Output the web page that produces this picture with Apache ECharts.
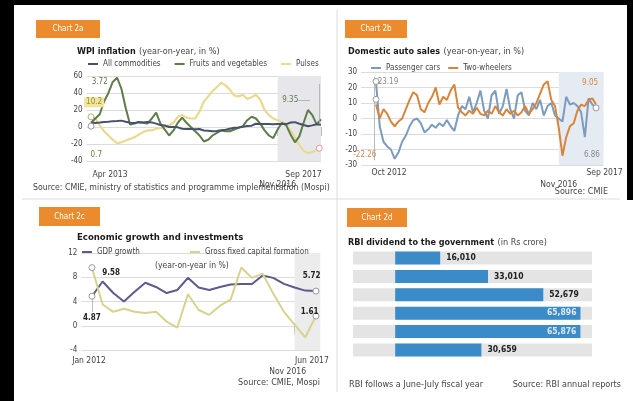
<!DOCTYPE html>
<html><head><meta charset="utf-8">
<script src="https://cdn.jsdelivr.net/npm/echarts@6/dist/echarts.min.js"></script>
<style>html,body{margin:0;padding:0;background:#fff}#c{width:633px;height:401px}</style>
</head><body><div id="c"></div>
<script>
const FONT = "'Liberation Sans Narrow','DejaVu Sans Condensed',sans-serif";

// ---------- Chart 2a: WPI inflation (monthly, Apr 2013 - Sep 2017) ----------
const MON = ['Jan','Feb','Mar','Apr','May','Jun','Jul','Aug','Sep','Oct','Nov','Dec'];
function monthRange(y0, m0, n){ const out=[]; for(let k=0;k<n;k++){ const m=(m0+k)%12, y=y0+Math.floor((m0+k)/12); out.push(MON[m]+' '+y);} return out; }
const wpiMonths = monthRange(2013, 3, 54);
const wpiAll = [5.2,4.6,5.2,5.9,6.1,6.9,7.0,7.5,6.2,5.0,4.7,5.7, 5.2,6.0,5.4,4.0,2.4,1.8,0.0,0.1,-0.4,-2.1,-2.4,-2.3, -2.7,-2.4,-4.1,-4.5,-5.0,-4.6,-3.8,-3.3,-2.0,-0.9,-0.7,0.3, 1.2,1.6,3.8,3.6,3.4,3.4,3.2,3.4,3.4,3.4,5.3,5.7, 3.9,2.3,0.9,1.9,3.2,2.6];
const wpiFruits = [5,10,15,30,40,53,58,45,22,3,4,6, 5,4,10,17,4,-3,-10,-4,5,11,5,0, -5,-10,-17,-15,-10,-7,-4,-5,-5,-3,-1,1, 8,12,10,4,-4,-10,-13,-3,5,2,-9,-18, -11,5,20,14,3,9];
const wpiPulses = [12,10,2,-5,-10,-15,-19,-18,-16,-14,-12,-9, -6,-4,-4,-2,-1,0,2,5,12,14,11,10, 10,18,30,36,42,47,52,49,44,37,36,38, 33,35,38,32,20,14,10,8,6,3,-4,-13, -21,-28,-31,-29,-27,-24];
const wpiTicks = [['Apr 2013','Apr 2013'],['Nov 2016','Nov 2016'],['Sep 2017','Sep 2017']];

// ---------- Chart 2b: Domestic auto sales (monthly, Oct 2012 - Sep 2017) ----------
const autoMonths = monthRange(2012, 9, 60);
const autoCars = [23.19,-5,-15,-18,-20,-26,-22,-15,-11,-5,-1,0, -3,-9,-7,-4,-6,-3,-5,-1,-5,-8,2,8, 6,14,4,10,18,5,0,15,18,3,8,19, 6,0,15,17,5,2,10,6,12,2,8,10, 2,0,-2,14,9,10,8,4,-12,13,9,6.86];
const autoTwo = [9,0,6,3,-2,-5,-2,0,6,12,17,15, 6,4,10,14,20,9,14,12,18,22,7,4, 2,5,3,7,3,2,5,3,8,4,2,6, 3,5,2,4,8,3,6,10,16,22,24,12, 8,-6,-24,-12,-5,-3,5,9,8,12,13,9.05];
const autoTicks = [['Oct 2012','Oct 2012'],['Nov 2016','Nov 2016'],['Sep 2017','Sep 2017']];

// ---------- Chart 2c: GDP growth and GFCF (quarterly) ----------
const gdpQuarters = ['Jan-Mar 2012','Apr-Jun 2012','Jul-Sep 2012','Oct-Dec 2012','Jan-Mar 2013','Apr-Jun 2013','Jul-Sep 2013','Oct-Dec 2013','Jan-Mar 2014','Apr-Jun 2014','Jul-Sep 2014','Oct-Dec 2014','Jan-Mar 2015','Apr-Jun 2015','Jul-Sep 2015','Oct-Dec 2015','Jan-Mar 2016','Apr-Jun 2016','Jul-Sep 2016','Oct-Dec 2016','Jan-Mar 2017','Apr-Jun 2017'];
const gdpGrowth = [4.87,7.3,5.4,4.0,5.6,7.1,6.4,5.4,5.9,7.9,6.3,5.9,6.4,6.8,6.9,6.9,8.3,7.9,6.9,6.3,5.8,5.72];
const gfcf = [9.58,3.5,2.3,2.8,2.3,2.1,2.3,0.7,-0.3,5.2,2.6,1.8,3.3,4.3,9.6,7.9,8.6,5.3,2.3,0.2,-1.9,1.61];
const gdpTicks = [['Jan-Mar 2012','Jan 2012'],['Oct-Dec 2016','Nov 2016'],['Apr-Jun 2017','Jun 2017']];

// ---------- Chart 2d: RBI dividend ----------
const rbiYears = ['FY12','FY13','FY14','FY15','FY16','FY17'];
const rbiDividend = [16010,33010,52679,65896,65876,30659];

// ---------- helpers ----------
const pairs = (arr) => arr.map((v,i)=>[i,v]);
function tickMap(cats, ticks){ const m={}; ticks.forEach(t=>{ m[cats.indexOf(t[0])]=t[1]; }); return m; }
function ann(coord, text, color, extra){ return {coord, symbol:'rect', symbolSize:0, label:Object.assign({show:true, position:'inside', formatter:text, color:color, fontSize:8, fontFamily:FONT}, extra||{})}; }
function dot(coord, border){ return {coord, symbol:'circle', symbolSize:6, itemStyle:{color:'#fff', borderColor:border||'#999', borderWidth:1}, label:{show:false}}; }
function seg(a,b){ return [{coord:a},{coord:b}]; }
const leader = (data) => ({symbol:['none','none'], silent:true, animation:false, label:{show:false}, lineStyle:{color:'#aaa', width:0.8, type:'solid'}, emphasis:{disabled:true}, data});
const axisTxt = {color:'#444', fontSize:8, fontFamily:FONT};

const wpiMap = tickMap(wpiMonths, wpiTicks);
const autoMap = tickMap(autoMonths, autoTicks);
const gdpMap = tickMap(gdpQuarters, gdpTicks);
const nov16a = wpiMonths.indexOf('Nov 2016'), nov16b = autoMonths.indexOf('Nov 2016'), nov16c = gdpQuarters.indexOf('Oct-Dec 2016');

function xAxisFor(gi, min, max, map, richCfg){
  const vals = Object.keys(map).map(Number);
  return {type:'value', gridIndex:gi, min, max, axisLine:{show:false}, splitLine:{show:false},
    axisTick:{show:true, customValues: vals.slice(1), length:9, lineStyle:{color:'#aaa', width:0.8}},
    axisLabel:Object.assign({customValues: vals, margin: richCfg.margin, formatter:(v)=>{ const k=vals.indexOf(Math.round(v)); return '{t'+k+'|'+(map[Math.round(v)]||'')+'}'; }, rich: richCfg.rich}, axisTxt)};
}
function yAxisFor(gi, min, max, interval){
  return {type:'value', gridIndex:gi, min, max, interval, axisLine:{show:false}, axisTick:{show:false},
    splitLine:{show:true, lineStyle:{color:'#dcdcdc', width:1}}, axisLabel:Object.assign({margin:4}, axisTxt)};
}
const r = (pad) => ({padding:pad, fontSize:8.5, fontFamily:FONT, color:'#444'});
const SRC = (sz) => sz + 'px ' + FONT;

const option = {
  animation:false,
  backgroundColor:'#fff',
  textStyle:{fontFamily:FONT},
  grid:[
    {left:86.7, top:76, width:234.3, height:85},
    {left:361.1, top:72, width:242.4, height:93},
    {left:81.3, top:253, width:238.9, height:97},
    {left:353, top:248.8, width:239, height:110.4}
  ],
  legend:[
    {left:88, top:60, padding:0, itemWidth:10, itemHeight:2, icon:'rect', itemGap:14, textStyle:{fontSize:8, color:'#444', fontFamily:FONT}, data:['All commodities','Fruits and vegetables','Pulses']},
    {left:371, top:64, padding:0, itemWidth:10, itemHeight:2, icon:'rect', itemGap:8, textStyle:{fontSize:8, color:'#444', fontFamily:FONT}, data:['Passenger cars','Two-wheelers']},
    {left:82, top:248, padding:0, itemWidth:10, itemHeight:2, icon:'rect', itemGap:8, textStyle:{fontSize:8, color:'#444', fontFamily:FONT}, data:['GDP growth']},
    {left:190, top:248, padding:0, itemWidth:10, itemHeight:2, icon:'rect', itemGap:8, textStyle:{fontSize:8, color:'#444', fontFamily:FONT}, data:['Gross fixed capital formation']}
  ],
  xAxis:[
    xAxisFor(0, -1, 53, wpiMap, {margin:9, rich:{t0:r([0,0,0,38]), t1:r([10,0,0,0]), t2:r([0,35,0,0])}}),
    xAxisFor(1, -4, 61, autoMap, {margin:3, rich:{t0:r([0,0,0,26]), t1:r([12,0,0,0]), t2:r([0,0,0,17])}}),
    xAxisFor(2, -1, 21.4, gdpMap, {margin:6, rich:{t0:r([0,6,0,0]), t1:r([11,14,0,0]), t2:r([0,8,0,0])}}),
    {type:'value', gridIndex:3, min:-15000, max:70000, show:false}
  ],
  yAxis:[
    yAxisFor(0, -40, 60, 20),
    yAxisFor(1, -30, 30, 10),
    yAxisFor(2, -4, 12, 4),
    {type:'category', gridIndex:3, data:rbiYears, inverse:true, axisLine:{show:false}, axisTick:{show:false},
     axisLabel:{inside:true, margin:6, color:'#666', fontSize:8, fontFamily:FONT}}
  ],
  series:[
    {name:'Pulses', type:'line', xAxisIndex:0, yAxisIndex:0, data:pairs(wpiPulses), showSymbol:false, color:'#e8da8e', lineStyle:{width:2.2},
     markArea:{silent:true, itemStyle:{color:'#e7e7eb'}, data:[[{xAxis:nov16a},{xAxis:53}]]},
     markPoint:{silent:true, data:[ann([0.7,29],'10.2','#9a8a30',{backgroundColor:'#f0e59c', padding:[1,2]}), ann([53.7,-16.5],'-24.26','#9a8a30',{backgroundColor:'#f0e59c', padding:[1,2]}), dot([0,12],'#b8ae70'), dot([52.6,-25],'#d99')]}},
    {name:'Fruits and vegetables', type:'line', xAxisIndex:0, yAxisIndex:0, data:pairs(wpiFruits), showSymbol:false, color:'#5f7c4a', lineStyle:{width:2},
     markPoint:{silent:true, data:[ann([2,53],'3.72','#5f7c4a'), ann([45.9,32],'9.35','#5f7c4a'), ann([54.2,50.6],'2.6','#444')]},
     markLine:leader([seg([0,55],[0,-42]), seg([47.6,32],[50.5,32]), seg([52.5,50.6],[53.5,50.6]), seg([52.5,50.6],[52.5,4])])},
    {name:'All commodities', type:'line', xAxisIndex:0, yAxisIndex:0, data:pairs(wpiAll), showSymbol:false, color:'#46526a', lineStyle:{width:2},
     markPoint:{silent:true, data:[ann([1.2,-33],'0.7','#7a7a40'), dot([0,1],'#999')]}},

    {name:'Passenger cars', type:'line', xAxisIndex:1, yAxisIndex:1, data:pairs(autoCars), showSymbol:false, color:'#7c9bbd', lineStyle:{width:2},
     markArea:{silent:true, itemStyle:{color:'#e5ebf2'}, data:[[{xAxis:nov16b},{xAxis:61}]]},
     markPoint:{silent:true, data:[ann([3.2,23.9],'23.19','#888'), ann([57.9,-23.2],'6.86','#888'), dot([0,23.9],'#999'), dot([59,6.86],'#999')]},
     markLine:leader([seg([-0.4,27],[-0.4,-27]), seg([59.5,6.86],[61.3,6.86]), seg([61.3,6.86],[61.3,-26])])},
    {name:'Two-wheelers', type:'line', xAxisIndex:1, yAxisIndex:1, data:pairs(autoTwo), showSymbol:false, color:'#d8853c', lineStyle:{width:2},
     markPoint:{silent:true, data:[ann([57.4,23.2],'9.05','#d8853c'), ann([-3,-23.2],'-22.26','#c98a5a'), dot([0,12.3],'#999')]}},

    {name:'GDP growth', type:'line', xAxisIndex:2, yAxisIndex:2, data:pairs(gdpGrowth), showSymbol:false, color:'#5d5a8e', lineStyle:{width:2},
     markArea:{silent:true, itemStyle:{color:'#ececec'}, data:[[{xAxis:nov16c},{xAxis:21.4}]]},
     markPoint:{silent:true, data:[ann([1.8,8.7],'9.58','#222',{fontWeight:'bold'}), ann([0,1.3],'4.87','#222',{fontWeight:'bold'}), ann([20.6,8.2],'5.72','#222',{fontWeight:'bold'}), dot([0,4.87],'#999'), dot([21,5.72],'#999')]},
     markLine:leader([seg([0,4.6],[0,2.3])])},
    {name:'Gross fixed capital formation', type:'line', xAxisIndex:2, yAxisIndex:2, data:pairs(gfcf), showSymbol:false, color:'#d6d38f', lineStyle:{width:2},
     markPoint:{silent:true, data:[ann([20.4,2.2],'1.61','#222',{fontWeight:'bold'}), dot([0,9.58],'#999'), dot([21,1.61],'#999')]}},

    {name:'RBI dividend', type:'bar', xAxisIndex:3, yAxisIndex:3, barWidth:13, color:'#3b8bc9',
     showBackground:true, backgroundStyle:{color:'#e4e4e4'},
     data: rbiDividend.map((v)=>{
       const inside = v > 60000;
       return {value:v, label:{show:true, position: inside ? 'insideRight' : 'right', distance: inside ? 4 : 6,
         color: inside ? '#dce9f5' : '#222', fontWeight:'bold', fontSize:8.5, fontFamily:FONT,
         formatter:(p)=>p.value.toLocaleString('en-US')}};
     })}
  ],
  graphic:[
    {type:'rect', silent:true, shape:{x:0,y:0,width:14,height:401}, style:{fill:'#000'}},
    {type:'rect', silent:true, shape:{x:0,y:0,width:633,height:5}, style:{fill:'#000'}},
    {type:'rect', silent:true, shape:{x:627,y:0,width:6,height:200}, style:{fill:'#000'}},
    {type:'line', silent:true, shape:{x1:337,y1:10,x2:337,y2:392}, style:{stroke:'#ddd', lineWidth:1}},
    {type:'line', silent:true, shape:{x1:22,y1:199,x2:620,y2:199}, style:{stroke:'#ddd', lineWidth:1}},
    // chart tags
    {type:'rect', silent:true, shape:{x:36,y:20,width:64,height:18}, style:{fill:'#ec8b2e'}},
    {type:'text', silent:true, x:68, y:29, style:{text:'Chart 2a', fill:'#fff', font:'8px '+FONT, align:'center', verticalAlign:'middle'}},
    {type:'rect', silent:true, shape:{x:345,y:20,width:62,height:18}, style:{fill:'#ec8b2e'}},
    {type:'text', silent:true, x:376, y:29, style:{text:'Chart 2b', fill:'#fff', font:'8px '+FONT, align:'center', verticalAlign:'middle'}},
    {type:'rect', silent:true, shape:{x:39,y:207,width:61,height:19}, style:{fill:'#ec8b2e'}},
    {type:'text', silent:true, x:69.5, y:216.5, style:{text:'Chart 2c', fill:'#fff', font:'8px '+FONT, align:'center', verticalAlign:'middle'}},
    {type:'rect', silent:true, shape:{x:347,y:208,width:60,height:19}, style:{fill:'#ec8b2e'}},
    {type:'text', silent:true, x:377, y:217.5, style:{text:'Chart 2d', fill:'#fff', font:'8px '+FONT, align:'center', verticalAlign:'middle'}},
    // titles
    {type:'text', silent:true, x:77, y:52, style:{text:'{b|WPI inflation} {n|(year-on-year, in %)}', verticalAlign:'middle', rich:{b:{fontWeight:'bold', fontSize:9, fontFamily:FONT, fill:'#1a1a1a'}, n:{fontSize:9, fontFamily:FONT, fill:'#444'}}}},
    {type:'text', silent:true, x:348, y:52, style:{text:'{b|Domestic auto sales} {n|(year-on-year, in %)}', verticalAlign:'middle', rich:{b:{fontWeight:'bold', fontSize:9, fontFamily:FONT, fill:'#1a1a1a'}, n:{fontSize:9, fontFamily:FONT, fill:'#444'}}}},
    {type:'text', silent:true, x:77, y:238, style:{text:'{b|Economic growth and investments}', verticalAlign:'middle', rich:{b:{fontWeight:'bold', fontSize:9.5, fontFamily:FONT, fill:'#1a1a1a'}}}},
    {type:'text', silent:true, x:155, y:266, style:{text:'(year-on-year in %)', fill:'#444', font:SRC(8.5), verticalAlign:'middle'}},
    {type:'text', silent:true, x:348, y:243, style:{text:'{b|RBI dividend to the government} {n|(in Rs crore)}', verticalAlign:'middle', rich:{b:{fontWeight:'bold', fontSize:9, fontFamily:FONT, fill:'#1a1a1a'}, n:{fontSize:9, fontFamily:FONT, fill:'#444'}}}},
    // sources
    {type:'text', silent:true, x:33, y:188, style:{text:'Source: CMIE, ministry of statistics and programme implementation (Mospi)', fill:'#444', font:SRC(8.7), verticalAlign:'middle'}},
    {type:'text', silent:true, x:608, y:192, style:{text:'Source: CMIE', fill:'#444', font:SRC(9), align:'right', verticalAlign:'middle'}},
    {type:'text', silent:true, x:320, y:383, style:{text:'Source: CMIE, Mospi', fill:'#444', font:SRC(9), align:'right', verticalAlign:'middle'}},
    {type:'text', silent:true, x:349, y:385, style:{text:'RBI follows a June-July fiscal year', fill:'#444', font:SRC(9), verticalAlign:'middle'}},
    {type:'text', silent:true, x:621, y:385, style:{text:'Source: RBI annual reports', fill:'#444', font:SRC(9), align:'right', verticalAlign:'middle'}}
  ]
};
const chart = echarts.init(document.getElementById('c'), null, {renderer:'canvas', width:633, height:401});
chart.setOption(option);
</script>
</body></html>
